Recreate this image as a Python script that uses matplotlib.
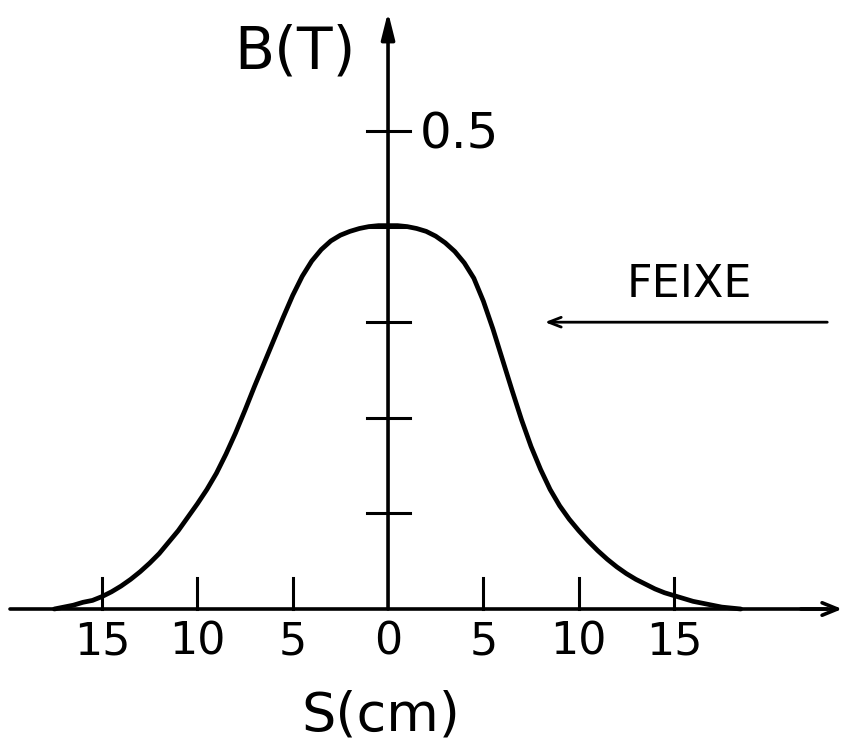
import matplotlib.pyplot as plt

# Field profile B(S)
s_cm = [-17.5, -17.0, -16.5, -16.0, -15.5, -15.0, -14.5, -14.0, -13.5, -13.0,
        -12.5, -12.0, -11.5, -11.0, -10.5, -10.0, -9.5, -9.0, -8.5, -8.0,
        -7.5, -7.0, -6.5, -6.0, -5.5, -5.0, -4.5, -4.0, -3.5, -3.0,
        -2.5, -2.0, -1.5, -1.0, -0.5, 0.0, 0.5, 1.0, 1.5, 2.0,
        2.5, 3.0, 3.5, 4.0, 4.5, 5.0, 5.5, 6.0, 6.5, 7.0,
        7.5, 8.0, 8.5, 9.0, 9.5, 10.0, 10.5, 11.0, 11.5, 12.0,
        12.5, 13.0, 13.5, 14.0, 14.5, 15.0, 15.5, 16.0, 16.5, 17.0,
        17.5, 18.0, 18.5]
b_tesla = [0.0, 0.002, 0.004, 0.007, 0.009, 0.013, 0.018, 0.024, 0.031, 0.039,
           0.048, 0.058, 0.070, 0.082, 0.096, 0.110, 0.125, 0.142, 0.162, 0.184,
           0.208, 0.233, 0.257, 0.281, 0.305, 0.328, 0.348, 0.364, 0.376, 0.385,
           0.391, 0.395, 0.398, 0.400, 0.401, 0.401, 0.401, 0.400, 0.398, 0.395,
           0.390, 0.383, 0.374, 0.362, 0.346, 0.322, 0.293, 0.261, 0.229, 0.198,
           0.170, 0.146, 0.125, 0.108, 0.094, 0.082, 0.071, 0.061, 0.052, 0.044,
           0.037, 0.031, 0.026, 0.021, 0.017, 0.014, 0.011, 0.008, 0.006, 0.004,
           0.002, 0.001, 0.0]

x_ticks = [-15, -10, -5, 0, 5, 10, 15]
x_tick_labels = ["15", "10", "5", "0", "5", "10", "15"]
y_ticks = [0.1, 0.2, 0.3, 0.4, 0.5]

fig = plt.figure(figsize=(8.47, 7.46), dpi=100)
ax = fig.add_axes([0, 0, 1, 1])
ax.set_xlim(-20.35, 24.07)
ax.set_ylim(-0.1433, 0.637)
ax.axis("off")

# axes with arrows
ax.plot([-19.8, 23.0], [0, 0], color="black", lw=2.6, solid_capstyle="round")
ax.annotate("", xy=(23.96, 0), xytext=(21.5, 0),
            arrowprops=dict(arrowstyle="->,head_length=1.1,head_width=0.45",
                            color="black", lw=2.6))
ax.annotate("", xy=(0, 0.6245), xytext=(0, 0),
            arrowprops=dict(arrowstyle="-|>,head_length=1.6,head_width=0.4",
                            color="black", lw=2.6, shrinkA=0, shrinkB=0))

# ticks
for xt in x_ticks:
    if xt != 0:
        ax.plot([xt, xt], [0, 0.032], color="black", lw=2.2)
for yt in y_ticks:
    ax.plot([-1.1, 1.15], [yt, yt], color="black", lw=2.2)

for xt, lab in zip(x_ticks, x_tick_labels):
    ax.text(xt, -0.0345, lab, ha="center", va="center", fontsize=32)

ax.text(1.68, 0.496, "0.5", ha="left", va="center", fontsize=36)
ax.text(-4.88, 0.583, "B(T)", ha="center", va="center", fontsize=42)
ax.text(-0.37, -0.111, "S(cm)", ha="center", va="center", fontsize=39)

# field curve
ax.plot(s_cm, b_tesla, color="black", lw=3.4, solid_joinstyle="round",
        solid_capstyle="round")

# beam direction
ax.text(15.8, 0.339, "FEIXE", ha="center", va="center", fontsize=32)
ax.annotate("", xy=(8.08, 0.300), xytext=(23.18, 0.300),
            arrowprops=dict(arrowstyle="->,head_length=0.9,head_width=0.35",
                            color="black", lw=2.0))

fig.savefig("out.png", dpi=100)
